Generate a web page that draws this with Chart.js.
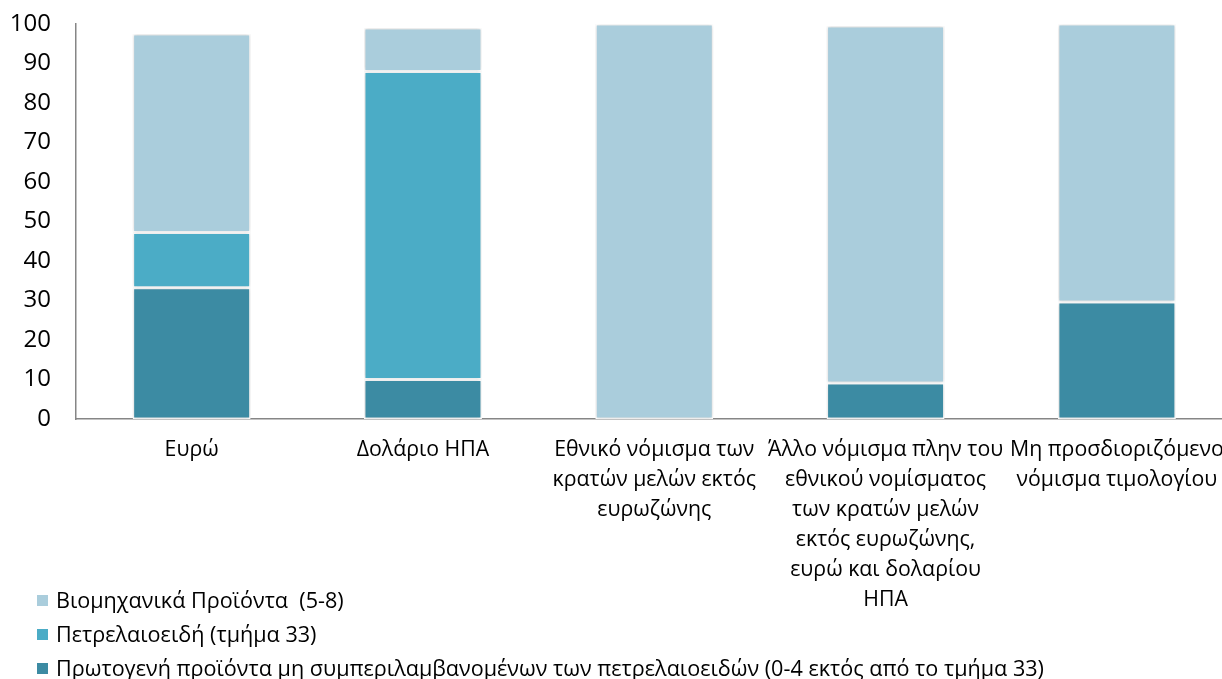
<!DOCTYPE html>
<html>
<head>
<meta charset="utf-8">
<script src="https://cdn.jsdelivr.net/npm/chart.js@4"></script>
<style>
  html, body { margin: 0; padding: 0; background: #fff; overflow: hidden; }
  #wrap { position: relative; width: 1240px; height: 679px; }
  #legend { position: absolute; left: 37px; top: 585px; font-family: "Open Sans", sans-serif; font-size: 21.6px; color: #000; }
  #legend div { height: 34px; line-height: 30px; white-space: pre; }
  #legend span { display: inline-block; width: 11px; height: 11px; margin-right: 8px; vertical-align: 2px; }
</style>
</head>
<body>
<div id="wrap">
  <canvas id="chart" width="1240" height="679"></canvas>
  <div id="legend"></div>
</div>
<script>
const categories = [
    "Ευρώ",
    "Δολάριο ΗΠΑ",
    ["Εθνικό νόμισμα των", "κρατών μελών εκτός", "ευρωζώνης"],
    ["Άλλο νόμισμα πλην του", "εθνικού νομίσματος", "των κρατών μελών", "εκτός ευρωζώνης,", "ευρώ και δολαρίου", "ΗΠΑ"],
    ["Μη προσδιοριζόμενο", "νόμισμα τιμολογίου"],
];

// stacked bottom to top
const primary = [33.2, 10, 0, 9.1, 29.6];
const petroleum = [14, 78, 0, 0, 0];
const industrial = [50.3, 11, 100, 90.4, 70.4];

const seriesNames = [
    "Πρωτογενή προϊόντα μη συμπεριλαμβανομένων των πετρελαιοειδών (0-4 εκτός από το τμήμα 33)",
    "Πετρελαιοειδή (τμήμα 33)",
    "Βιομηχανικά Προϊόντα  (5-8)",
];
const colors = ["#3C8BA3", "#4BACC6", "#AACDDC"];

const yTicks = [0, 10, 20, 30, 40, 50, 60, 70, 80, 90, 100];

const barShadow = {
    id: "barShadow",
    beforeDatasetsDraw(chart) {
        const ctx = chart.ctx;
        ctx.save();
        ctx.shadowColor = "rgba(0,0,0,0.18)";
        ctx.shadowBlur = 4;
    },
    afterDatasetsDraw(chart) {
        chart.ctx.restore();
    },
};

const ctx = document.getElementById("chart").getContext("2d");
const chart = new Chart(ctx, {
    type: "bar",
    data: {
        labels: categories,
        datasets: [primary, petroleum, industrial].map((d, i) => ({
            label: seriesNames[i],
            data: d,
            backgroundColor: colors[i],
            borderColor: "#ffffff",
            borderWidth: 1.5,
            borderSkipped: false,
            barPercentage: 0.51,
            categoryPercentage: 1,
        })),
    },
    options: {
        responsive: false,
        animation: false,
        layout: { padding: { top: 24, right: 2, left: 0, bottom: 0 } },
        plugins: {
            legend: { display: false },
            tooltip: { enabled: false },
        },
        scales: {
            x: {
                stacked: true,
                grid: { display: false, drawTicks: false },
                border: { display: true, color: "#868686", width: 1.5 },
                ticks: {
                    color: "#000",
                    padding: 16,
                    maxRotation: 0,
                    autoSkip: false,
                    font: { family: "Open Sans", size: 21.3, lineHeight: 1.41 },
                },
                afterFit(scale) { scale.height = 260; },
            },
            y: {
                stacked: true,
                min: 0,
                max: 100,
                grid: { display: false, drawTicks: false },
                border: { display: true, color: "#868686", width: 1.5 },
                afterBuildTicks(scale) { scale.ticks = yTicks.map(v => ({ value: v })); },
                ticks: {
                    color: "#000",
                    padding: 25,
                    font: { family: "Open Sans", size: 24 },
                },
                afterFit(scale) {
                    scale.width = 76;
                    // tick padding should not push the plot down
                    scale.paddingTop = 0;
                    scale.paddingBottom = 0;
                },
            },
        },
    },
    plugins: [barShadow],
});

// vertical legend, top item = top of stack
const legend = document.getElementById("legend");
chart.data.datasets.slice().reverse().forEach(ds => {
    const row = document.createElement("div");
    const box = document.createElement("span");
    box.style.background = ds.backgroundColor;
    row.appendChild(box);
    row.appendChild(document.createTextNode(ds.label));
    legend.appendChild(row);
});
</script>
</body>
</html>
